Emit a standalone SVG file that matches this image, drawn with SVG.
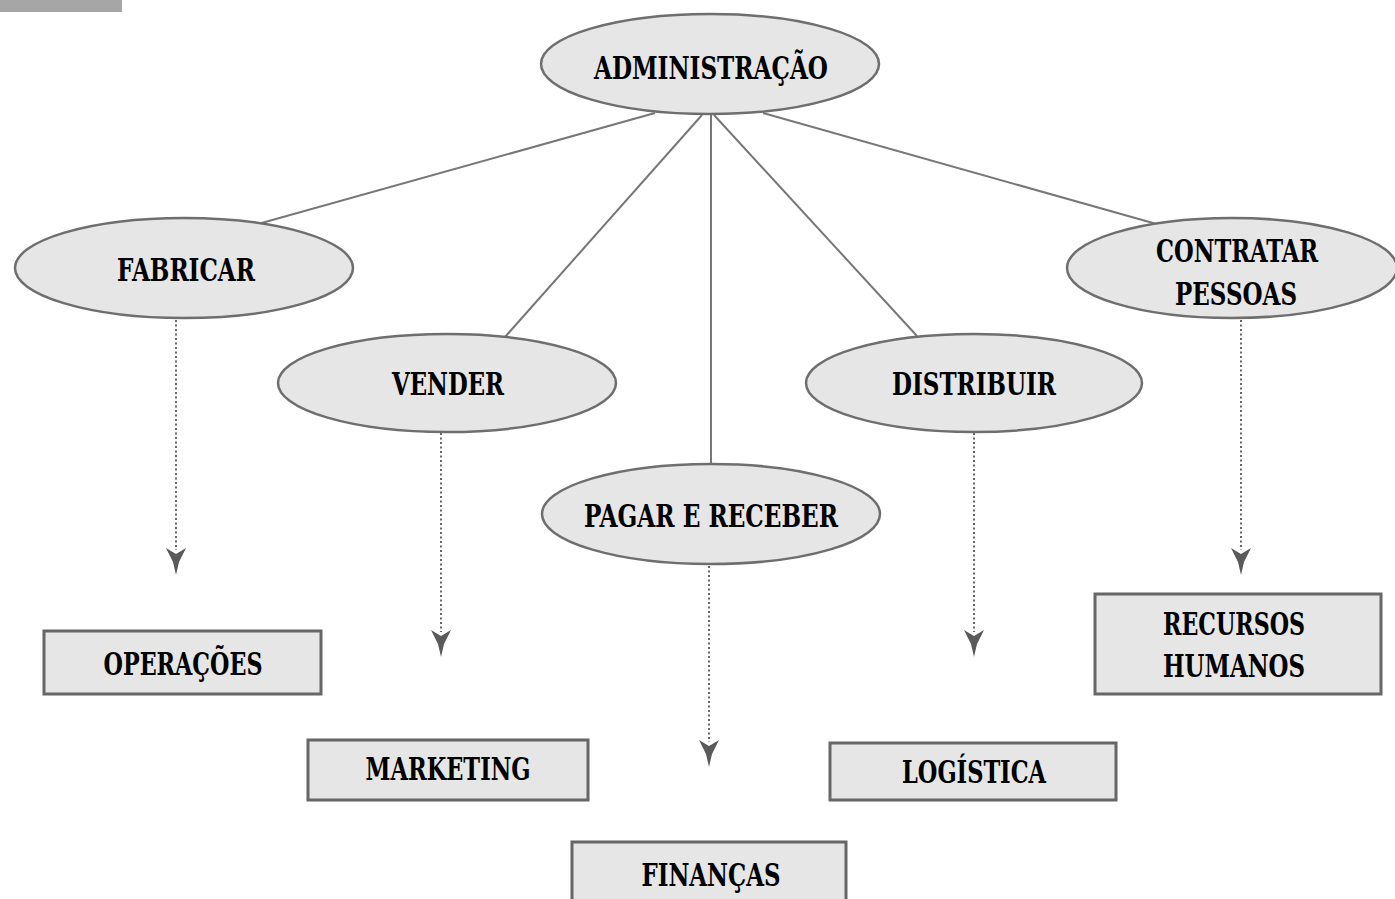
<svg xmlns="http://www.w3.org/2000/svg" width="1395" height="899" viewBox="0 0 1395 899">
<style>
.ell{fill:#e6e6e6;stroke:#6e6e6e;stroke-width:2.5}
.box{fill:#e6e6e6;stroke:#666;stroke-width:3}
.ln{stroke:#777;stroke-width:2;fill:none}
.dot{stroke:#666;stroke-width:2;fill:none;stroke-dasharray:2 2.5}
.t{font-family:"DejaVu Serif Condensed","DejaVu Serif",serif;font-size:31px;font-weight:bold;fill:#000;text-anchor:middle}
</style>
<defs>
<path id="ah" d="M-10,0 L0,6 L10,0 L3,14 L0,27 L-3,14 Z" fill="#5a5a5a"/>
</defs>
<rect x="0" y="0" width="122" height="12" fill="#a6a6a6"/>
<g id="connectors">
<line class="ln" x1="655" y1="113" x2="258" y2="224"/>
<line class="ln" x1="702" y1="115" x2="505" y2="337"/>
<line class="ln" x1="711" y1="114" x2="711" y2="464"/>
<line class="ln" x1="714" y1="115" x2="917" y2="336"/>
<line class="ln" x1="763" y1="113" x2="1160" y2="225"/>
<line class="dot" x1="176" y1="320" x2="176" y2="550"/>
<use href="#ah" x="176" y="548"/>
<line class="dot" x1="441" y1="433" x2="441" y2="632"/>
<use href="#ah" x="441" y="630"/>
<line class="dot" x1="709" y1="566" x2="709" y2="742"/>
<use href="#ah" x="709" y="740"/>
<line class="dot" x1="974" y1="433" x2="974" y2="632"/>
<use href="#ah" x="974" y="630"/>
<line class="dot" x1="1241" y1="320" x2="1241" y2="550"/>
<use href="#ah" x="1241" y="548"/>
</g>
<g id="administracao">
<ellipse class="ell" cx="710" cy="64" rx="169" ry="50"/>
<text class="t" x="711" y="79" textLength="234" lengthAdjust="spacingAndGlyphs">ADMINISTRAÇÃO</text>
</g>
<g id="fabricar">
<ellipse class="ell" cx="184" cy="268" rx="169" ry="50"/>
<text class="t" x="186" y="281" textLength="138" lengthAdjust="spacingAndGlyphs">FABRICAR</text>
</g>
<g id="vender">
<ellipse class="ell" cx="447" cy="383" rx="169" ry="49"/>
<text class="t" x="448" y="395" textLength="112" lengthAdjust="spacingAndGlyphs">VENDER</text>
</g>
<g id="pagar">
<ellipse class="ell" cx="711" cy="514" rx="169" ry="50"/>
<text class="t" x="711" y="527" textLength="254" lengthAdjust="spacingAndGlyphs">PAGAR E RECEBER</text>
</g>
<g id="distribuir">
<ellipse class="ell" cx="974" cy="383" rx="168" ry="49"/>
<text class="t" x="974" y="395" textLength="164" lengthAdjust="spacingAndGlyphs">DISTRIBUIR</text>
</g>
<g id="contratar">
<ellipse class="ell" cx="1232" cy="268" rx="165" ry="50"/>
<text class="t" x="1237" y="262" textLength="162" lengthAdjust="spacingAndGlyphs">CONTRATAR</text>
<text class="t" x="1236" y="305" textLength="122" lengthAdjust="spacingAndGlyphs">PESSOAS</text>
</g>
<g id="operacoes">
<rect class="box" x="44" y="631" width="277" height="63"/>
<text class="t" x="183" y="675" textLength="159" lengthAdjust="spacingAndGlyphs">OPERAÇÕES</text>
</g>
<g id="marketing">
<rect class="box" x="308" y="740" width="280" height="60"/>
<text class="t" x="448" y="780" textLength="165" lengthAdjust="spacingAndGlyphs">MARKETING</text>
</g>
<g id="financas">
<rect class="box" x="572" y="842" width="274" height="70"/>
<text class="t" x="711" y="886" textLength="139" lengthAdjust="spacingAndGlyphs">FINANÇAS</text>
</g>
<g id="logistica">
<rect class="box" x="830" y="743" width="286" height="57"/>
<text class="t" x="974" y="783" textLength="144" lengthAdjust="spacingAndGlyphs">LOGÍSTICA</text>
</g>
<g id="rh">
<rect class="box" x="1095" y="594" width="286" height="100"/>
<text class="t" x="1234" y="635" textLength="142" lengthAdjust="spacingAndGlyphs">RECURSOS</text>
<text class="t" x="1234" y="677" textLength="142" lengthAdjust="spacingAndGlyphs">HUMANOS</text>
</g>
</svg>
